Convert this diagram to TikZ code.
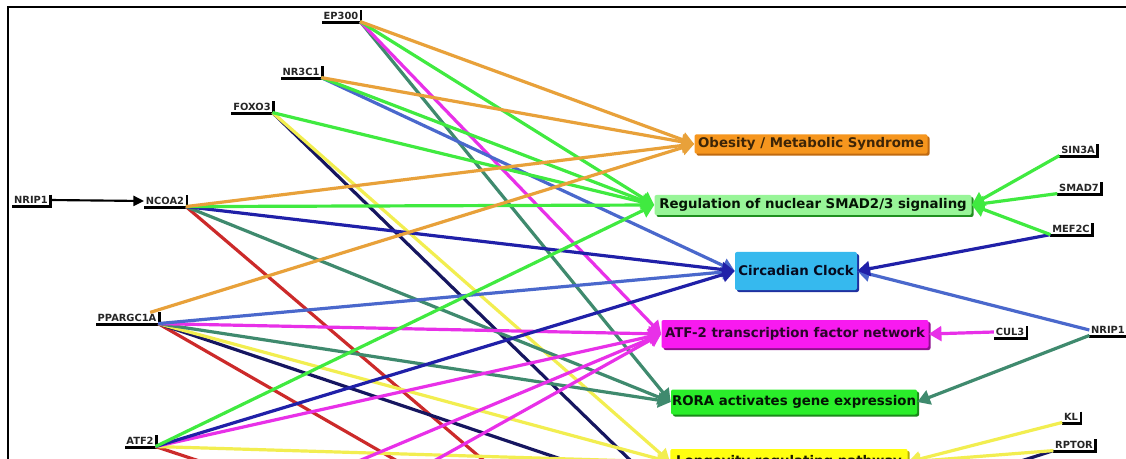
\documentclass[tikz,border=0pt]{standalone}
\usepackage{fontspec}
\setmainfont{DejaVu Sans}
\usetikzlibrary{arrows.meta,shadows}
\definecolor{cOrange}{HTML}{E8A13A}
\definecolor{cGreen}{HTML}{40EA40}
\definecolor{cNavy}{HTML}{2020A8}
\definecolor{cDNavy}{HTML}{161660}
\definecolor{cRoyal}{HTML}{4A68CC}
\definecolor{cMag}{HTML}{E830E8}
\definecolor{cTeal}{HTML}{3F8A6E}
\definecolor{cYellow}{HTML}{F2EE50}
\definecolor{cRed}{HTML}{CC2A2A}
\definecolor{fObes}{HTML}{F6961E}
\definecolor{fSmad}{HTML}{98F598}
\definecolor{fCirc}{HTML}{36B9EE}
\definecolor{fAtf}{HTML}{F81AF0}
\definecolor{fRora}{HTML}{2AEE2A}
\definecolor{fLong}{HTML}{FFFF10}
\definecolor{sObes}{HTML}{C06A10}
\definecolor{sSmad}{HTML}{1F8F1F}
\definecolor{sCirc}{HTML}{2030A0}
\definecolor{sAtf}{HTML}{901090}
\definecolor{sRora}{HTML}{1A8A1A}
\definecolor{sLong}{HTML}{B8B000}
\begin{document}
\begin{tikzpicture}[x=0.75pt,y=-0.75pt,
  gene/.style={font=\bfseries\fontsize{7.4}{8}\selectfont, inner sep=1.2pt, text=black!85},
  bracket/.style={line width=1.9pt, black},
  pbox/.style={font=\bfseries\fontsize{10}{12}\selectfont, rounded corners=1.5pt, inner sep=0pt},
  edge/.style={line width=2.4pt, -{Triangle[length=9.5pt,width=11pt]}},
  blackedge/.style={line width=1.6pt, black, -{Triangle[length=8pt,width=7.5pt]}}
]
\useasboundingbox (0,0) rectangle (1126,459);
\clip (0,0) rectangle (1126,459);
\fill[white] (0,0) rectangle (1126,459);
\draw[line width=1.5pt] (8,480) -- (8,7) -- (1130,7);

% gene labels
\node[gene] (ep300) at (341,16) {EP300};
\node[gene] (nr3c1) at (301,72) {NR3C1};
\node[gene] (foxo3) at (252,107) {FOXO3};
\node[gene] (nripL) at (31,200) {NRIP1};
\node[gene] (ncoa2) at (165,201) {NCOA2};
\node[gene] (ppar) at (127,318) {PPARGC1A};
\node[gene] (atf2) at (140,441) {ATF2};
\node[gene] (sin3a) at (1078,150) {SIN3A};
\node[gene] (smad7) at (1079,188) {SMAD7};
\node[gene] (mef2c) at (1071,229) {MEF2C};
\node[gene] (cul3) at (1010,332) {CUL3};
\node[gene] (nripR) at (1108,330) {NRIP1};
\node[gene] (kl) at (1071,417) {KL};
\node[gene] (rptor) at (1074,445) {RPTOR};
\foreach \n in {ep300,nr3c1,foxo3,nripL,ncoa2,ppar,atf2,sin3a,smad7,mef2c,cul3,nripR,kl,rptor}
  \draw[bracket] ([xshift=0.8pt]\n.north east) -- ([xshift=0.8pt,yshift=-0.8pt]\n.south east) -- ([yshift=-0.8pt]\n.south west);

% pathway boxes
\node[pbox, fill=fObes, text=black!75!fObes, minimum width=174.75pt, minimum height=14.5pt,
  drop shadow={shadow xshift=1.5pt, shadow yshift=-1.5pt, fill=sObes, opacity=1}] (obes) at (811,144) {Obesity / Metabolic Syndrome};
\node[pbox, fill=fSmad, text=black!85!sSmad, minimum width=237.75pt, minimum height=15pt,
  drop shadow={shadow xshift=1.5pt, shadow yshift=-1.5pt, fill=sSmad, opacity=1}] (smad) at (813,205) {Regulation of nuclear SMAD2/3 signaling};
\node[pbox, fill=fCirc, text=black!80!sCirc, minimum width=91.5pt, minimum height=28.5pt,
  drop shadow={shadow xshift=1.5pt, shadow yshift=-1.5pt, fill=sCirc, opacity=1}] (circ) at (796,271) {Circadian Clock};
\node[pbox, fill=fAtf, text=black!70!sAtf, minimum width=200.25pt, minimum height=21pt,
  drop shadow={shadow xshift=1.5pt, shadow yshift=-1.5pt, fill=sAtf, opacity=1}] (atf) at (795,334) {ATF-2 transcription factor network};
\node[pbox, fill=fRora, text=black!85!sRora, minimum width=184.5pt, minimum height=18.75pt,
  drop shadow={shadow xshift=1.5pt, shadow yshift=-1.5pt, fill=sRora, opacity=1}] (rora) at (794,402) {RORA activates gene expression};
\node[pbox, fill=fLong, text=black!85!sLong, minimum width=178pt, minimum height=19.5pt,
  drop shadow={shadow xshift=1.5pt, shadow yshift=-1.5pt, fill=sLong, opacity=1}] (longv) at (789,462) {Longevity regulating pathway};

% off-picture ends
\coordinate (offNavy) at (665,494);
\coordinate (offRed) at (665,615);
\coordinate (mS1) at (130,557);
\coordinate (mS2) at (262,557);
\coordinate (offRP) at (925,492);

% red
\foreach \s in {ncoa2,ppar,atf2} \draw[edge,cRed] (\s.south east) -- (offRed);
% dark navy
\foreach \s in {foxo3,ppar} \draw[edge,cDNavy] (\s.south east) -- (offNavy);
\draw[edge,cDNavy] (rptor.south west) -- (offRP);
% yellow
\foreach \s in {foxo3,ppar,atf2} \draw[edge,cYellow] (\s.south east) -- (longv.west);
\foreach \s in {kl,rptor} \draw[edge,cYellow] (\s.south west) -- (longv.east);
% teal
\foreach \s in {ep300,ncoa2,ppar} \draw[edge,cTeal] (\s.south east) -- (rora.west);
\draw[edge,cTeal] (nripR.south west) -- (rora.east);
% magenta
\foreach \s in {ep300,ppar,atf2} \draw[edge,cMag] (\s.south east) -- (atf.west);
\foreach \s in {mS1,mS2} \draw[edge,cMag] (\s) -- (atf.west);
\draw[edge,cMag] (cul3.west) -- (atf.east);
% royal blue
\foreach \s in {nr3c1,ppar} \draw[edge,cRoyal] (\s.south east) -- (circ.west);
\draw[edge,cRoyal] (nripR.west) -- (circ.east);
% navy
\foreach \s in {ncoa2,atf2} \draw[edge,cNavy] (\s.south east) -- (circ.west);
\draw[edge,cNavy] (mef2c.south west) -- (circ.east);
% green
\foreach \s in {ep300,nr3c1,foxo3,ncoa2,atf2} \draw[edge,cGreen] (\s.south east) -- (smad.west);
\foreach \s in {sin3a,smad7,mef2c} \draw[edge,cGreen] (\s.south west) -- (smad.east);
% orange
\foreach \s in {ep300,nr3c1,ncoa2} \draw[edge,cOrange] (\s.south east) -- (obes.west);
\draw[edge,cOrange] ([xshift=-6pt]ppar.north east) -- (obes.west);

\draw[blackedge] (nripL.east) -- (ncoa2.west);
\end{tikzpicture}
\end{document}
